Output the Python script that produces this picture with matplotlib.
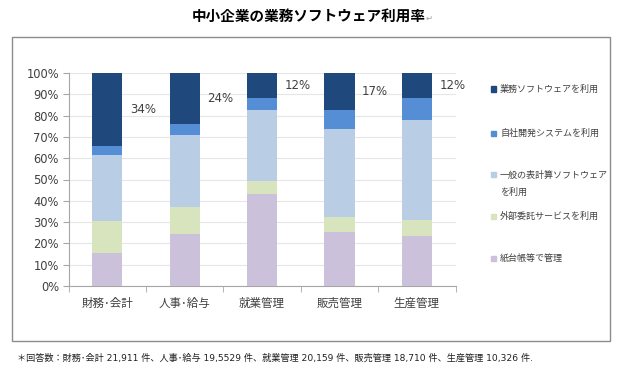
import matplotlib
matplotlib.use("Agg")
import numpy as np
import matplotlib.pyplot as plt
from matplotlib.patches import Rectangle

plt.rcParams['font.family'] = ['DejaVu Sans', 'Noto Sans CJK JP']

categories = ['財務･会計', '人事･給与', '就業管理', '販売管理', '生産管理']
series_names = ['紙台帳等で管理', '外部委託サービスを利用', '一般の表計算ソフトウェア\nを利用',
                '自社開発システムを利用', '業務ソフトウェアを利用']
colors = ['#CCC1DA', '#D7E4BD', '#B9CDE5', '#558ED5', '#1F497D']

paper = [15.6, 24.6, 43.2, 25.5, 23.5]
outsource = [14.9, 12.6, 6.1, 6.8, 7.5]
spreadsheet = [31.1, 33.7, 33.3, 41.6, 46.8]
inhouse = [4.3, 5.0, 5.8, 8.6, 10.6]
package = [34.1, 24.1, 11.6, 17.5, 11.6]
package_labels = ['34%', '24%', '12%', '17%', '12%']

values = [paper, outsource, spreadsheet, inhouse, package]

W, H = 627, 378
fig = plt.figure(figsize=(W / 100, H / 100), dpi=100)

# outer frame
fig.patches.append(Rectangle((12 / W, 1 - 341 / H), 598 / W, 304 / H, transform=fig.transFigure,
                             fill=False, edgecolor='#8C8C8C', lw=1.0))

ax = fig.add_axes([68.7 / W, 1 - 286 / H, 386.8 / W, 213 / H])

x = np.arange(len(categories))
bottom = np.zeros(len(categories))
for vals, col in zip(values, colors):
    ax.bar(x, vals, 0.39, bottom=bottom, color=col, zorder=3)
    bottom += np.array(vals)

# labels for top segment
top_mid = bottom - np.array(package) / 2
for xi, ym, lab in zip(x, top_mid, package_labels):
    ax.text(xi + 0.29, ym, lab, ha='left', va='center', fontsize=8.5, color='#404040')

ax.set_xlim(-0.5, len(categories) - 0.5)
ax.set_ylim(0, 100)
ax.set_yticks(np.arange(0, 101, 10))
ax.set_yticklabels([f'{v}%' for v in range(0, 101, 10)])
ax.set_xticks(x)
ax.set_xticklabels(categories, fontsize=8.3)
ax.set_xticks(np.arange(-0.5, len(categories), 1), minor=True)
ax.tick_params(axis='x', which='major', length=0, pad=8, colors='#404040')
ax.tick_params(axis='x', which='minor', length=4, color='#A6A6A6')
ax.tick_params(axis='y', length=4, color='#A6A6A6', labelsize=8.3, labelcolor='#404040', pad=3)
ax.grid(axis='y', color='#E6E6E6', lw=0.8, zorder=0)
for s in ['top', 'right']:
    ax.spines[s].set_visible(False)
for s in ['left', 'bottom']:
    ax.spines[s].set_color('#A6A6A6')

# legend, drawn top to bottom
leg_y = [89, 133, 175, 216, 258]
for i, (name, col) in enumerate(zip(series_names[::-1], colors[::-1])):
    yc = leg_y[i]
    fig.patches.append(Rectangle((491 / W, 1 - (yc + 2.5) / H), 5 / W, 5 / H,
                                 transform=fig.transFigure, color=col))
    for j, line in enumerate(name.split('\n')):
        fig.text(500 / W, 1 - (yc + 17 * j) / H, line, ha='left', va='center',
                 fontsize=6.5, color='#404040')

fig.text(309 / W, 1 - 16 / H, '中小企業の業務ソフトウェア利用率', ha='center', va='center',
         fontsize=10.5, fontweight='bold', family=['Noto Sans CJK JP', 'DejaVu Sans'])
fig.text(426 / W, 1 - 18 / H, '↵', ha='left', va='center', fontsize=6, color='#A0A0A0')

fig.text(17 / W, 1 - 358 / H,
         '＊回答数：財務･会計 21,911 件、人事･給与 19,5529 件、就業管理 20,159 件、'
         '販売管理 18,710 件、生産管理 10,326 件.',
         ha='left', va='center', fontsize=6.6, color='#202020')

fig.savefig('out.png', dpi=100)
